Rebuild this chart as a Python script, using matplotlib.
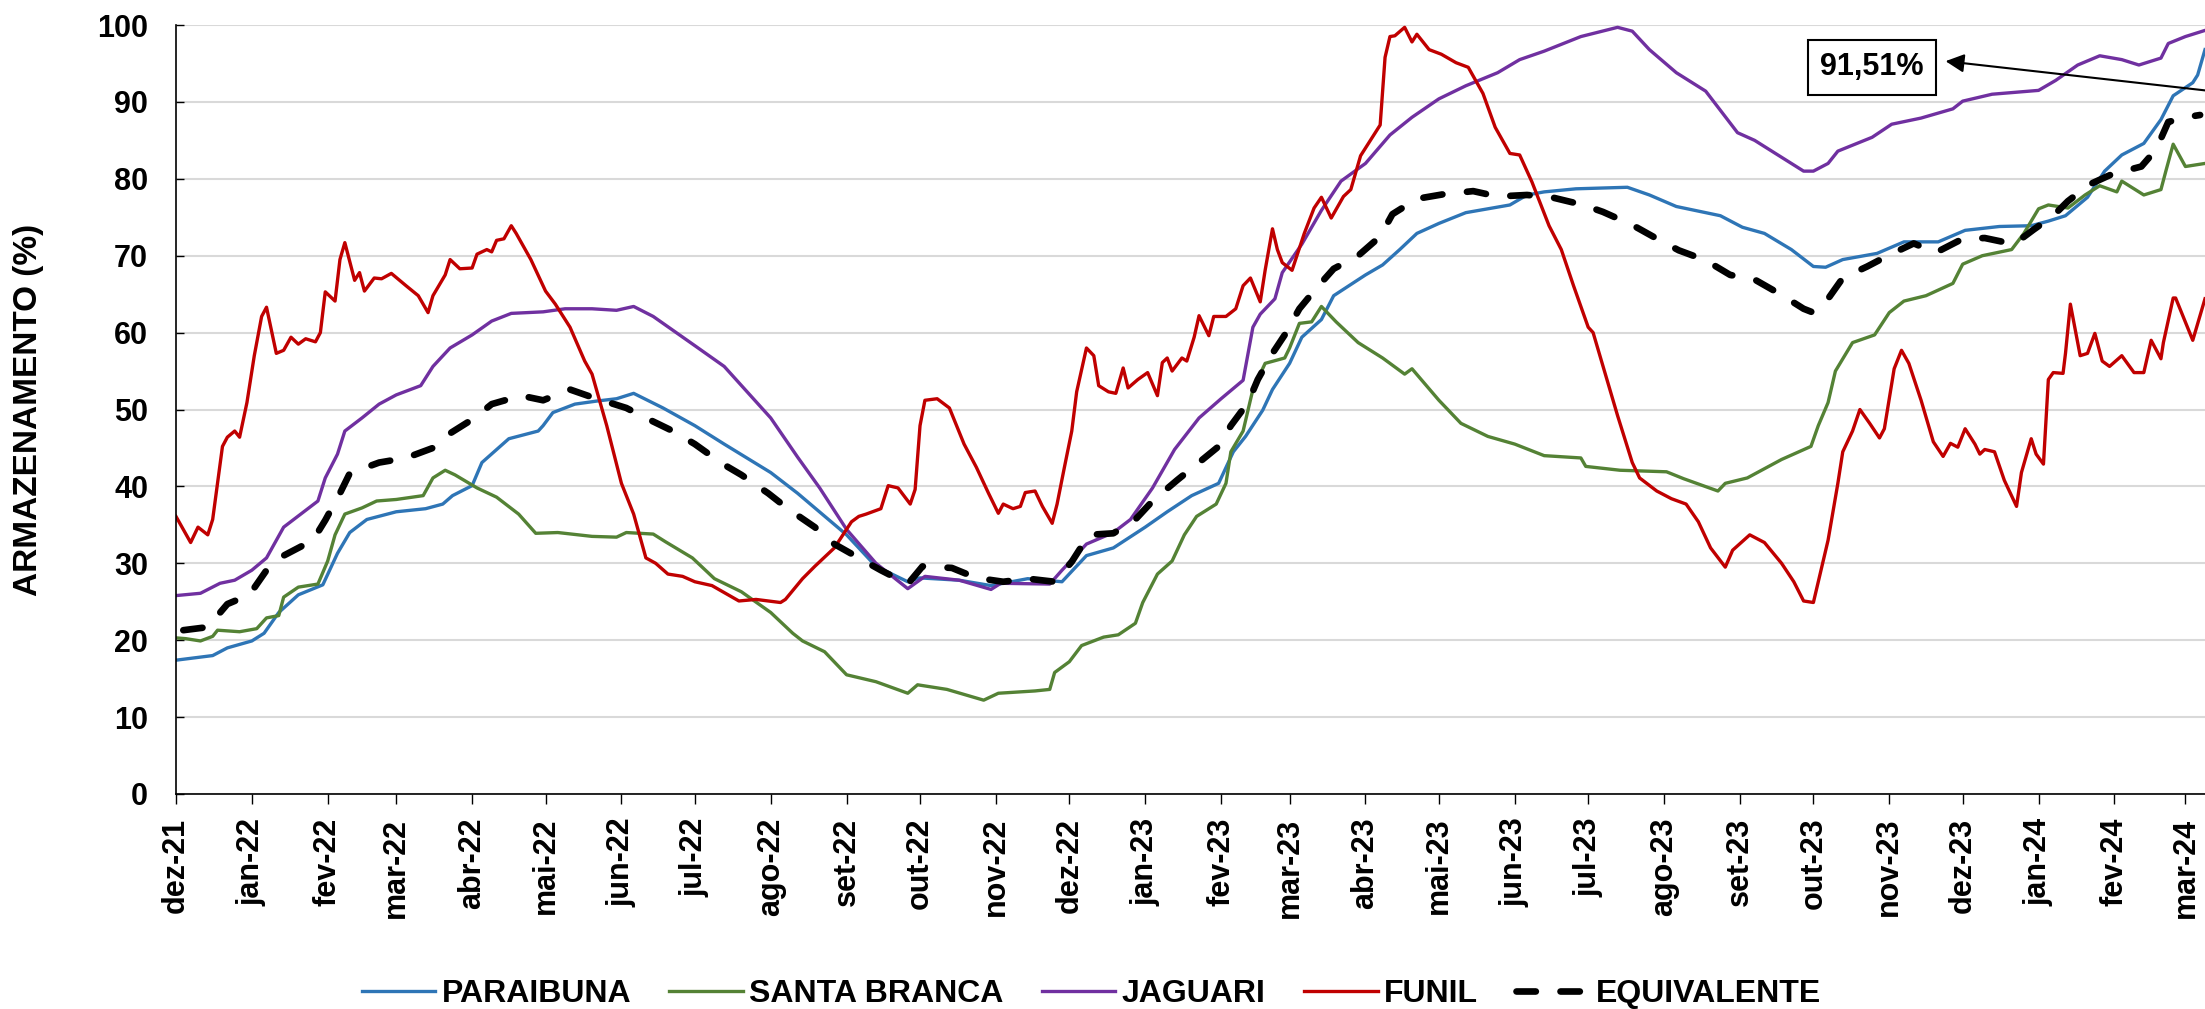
import pandas as pd
import matplotlib
matplotlib.use("Agg")
import matplotlib.pyplot as plt

# Month ticks
tick_labels = ["dez-21", "jan-22", "fev-22", "mar-22", "abr-22", "mai-22", "jun-22",
               "jul-22", "ago-22", "set-22", "out-22", "nov-22", "dez-22", "jan-23",
               "fev-23", "mar-23", "abr-23", "mai-23", "jun-23", "jul-23", "ago-23",
               "set-23", "out-23", "nov-23", "dez-23", "jan-24", "fev-24", "mar-24"]

# PARAIBUNA
paraibuna_dates = ["2021-12-01", "2021-12-16", "2021-12-22", "2022-01-01", "2022-01-06", "2022-01-12",
                   "2022-01-20", "2022-01-30", "2022-02-05", "2022-02-10", "2022-02-17", "2022-03-01",
                   "2022-03-13", "2022-03-20", "2022-03-24", "2022-04-01", "2022-04-05", "2022-04-16",
                   "2022-04-28", "2022-04-30", "2022-05-04", "2022-05-13", "2022-05-22", "2022-05-30",
                   "2022-06-06", "2022-06-18", "2022-07-01", "2022-07-13", "2022-08-01", "2022-08-12",
                   "2022-09-01", "2022-09-13", "2022-09-26", "2022-10-01", "2022-10-17", "2022-10-30",
                   "2022-11-14", "2022-11-28", "2022-12-08", "2022-12-19", "2023-01-01", "2023-01-10",
                   "2023-01-20", "2023-01-31", "2023-02-06", "2023-02-11", "2023-02-18", "2023-02-22",
                   "2023-03-01", "2023-03-06", "2023-03-14", "2023-03-19", "2023-04-01", "2023-04-08",
                   "2023-04-15", "2023-04-22", "2023-05-01", "2023-05-12", "2023-05-30", "2023-06-06",
                   "2023-06-13", "2023-06-26", "2023-07-17", "2023-07-26", "2023-08-06", "2023-08-24",
                   "2023-09-02", "2023-09-11", "2023-09-22", "2023-10-01", "2023-10-06", "2023-10-13",
                   "2023-10-27", "2023-11-07", "2023-11-21", "2023-12-02", "2023-12-16", "2023-12-29",
                   "2024-01-05", "2024-01-12", "2024-01-21", "2024-01-28", "2024-02-04", "2024-02-13",
                   "2024-02-20", "2024-02-25", "2024-03-04", "2024-03-06", "2024-03-09"]
paraibuna = [17.4, 18.0, 19.0, 19.9, 20.9, 23.6,
             25.9, 27.2, 31.3, 34.0, 35.7, 36.7,
             37.1, 37.7, 38.8, 40.1, 43.1, 46.2,
             47.2, 47.9, 49.6, 50.7, 51.1, 51.4,
             52.1, 50.2, 47.9, 45.5, 41.8, 39.1,
             33.7, 29.6, 27.6, 28.1, 27.8, 27.1,
             28.0, 27.6, 31.0, 32.0, 34.7, 36.7,
             38.8, 40.4, 44.5, 46.5, 49.9, 52.6,
             56.0, 59.4, 61.7, 64.8, 67.5, 68.8,
             70.8, 72.9, 74.2, 75.6, 76.6, 77.9,
             78.3, 78.7, 78.9, 77.9, 76.4, 75.2,
             73.7, 72.9, 70.8, 68.6, 68.5, 69.5,
             70.3, 71.8, 71.8, 73.3, 73.8, 73.9,
             74.5, 75.2, 77.6, 81.0, 83.1, 84.6,
             87.7, 90.8, 92.5, 93.5, 96.8]

# SANTA BRANCA
santa_branca_dates = ["2021-12-01", "2021-12-05", "2021-12-11", "2021-12-16", "2021-12-18", "2021-12-27",
                      "2022-01-03", "2022-01-07", "2022-01-12", "2022-01-14", "2022-01-20", "2022-01-28",
                      "2022-02-01", "2022-02-04", "2022-02-08", "2022-02-15", "2022-02-21", "2022-03-01",
                      "2022-03-12", "2022-03-16", "2022-03-21", "2022-03-25", "2022-04-03", "2022-04-11",
                      "2022-04-20", "2022-04-27", "2022-05-06", "2022-05-20", "2022-05-30", "2022-06-03",
                      "2022-06-14", "2022-06-19", "2022-06-30", "2022-07-09", "2022-07-20", "2022-08-01",
                      "2022-08-10", "2022-08-14", "2022-08-23", "2022-09-01", "2022-09-13", "2022-09-26",
                      "2022-09-30", "2022-10-12", "2022-10-27", "2022-11-02", "2022-11-17", "2022-11-23",
                      "2022-11-25", "2022-12-01", "2022-12-06", "2022-12-15", "2022-12-21", "2022-12-28",
                      "2022-12-31", "2023-01-06", "2023-01-12", "2023-01-17", "2023-01-22", "2023-01-30",
                      "2023-02-03", "2023-02-05", "2023-02-10", "2023-02-14", "2023-02-19", "2023-02-27",
                      "2023-03-01", "2023-03-05", "2023-03-10", "2023-03-14", "2023-03-20", "2023-03-29",
                      "2023-04-08", "2023-04-17", "2023-04-20", "2023-05-01", "2023-05-10", "2023-05-21",
                      "2023-06-01", "2023-06-13", "2023-06-28", "2023-06-30", "2023-07-14", "2023-08-02",
                      "2023-08-09", "2023-08-23", "2023-08-26", "2023-09-04", "2023-09-18", "2023-09-30",
                      "2023-10-03", "2023-10-07", "2023-10-10", "2023-10-17", "2023-10-26", "2023-11-01",
                      "2023-11-07", "2023-11-16", "2023-11-27", "2023-12-01", "2023-12-09", "2023-12-21",
                      "2023-12-26", "2024-01-01", "2024-01-05", "2024-01-13", "2024-01-20", "2024-01-26",
                      "2024-02-02", "2024-02-04", "2024-02-13", "2024-02-20", "2024-02-22", "2024-02-25",
                      "2024-03-01", "2024-03-09"]
santa_branca = [20.3, 20.2, 19.9, 20.5, 21.3, 21.1,
                21.5, 22.9, 23.2, 25.6, 26.9, 27.3,
                30.3, 33.7, 36.4, 37.2, 38.1, 38.3,
                38.8, 41.1, 42.1, 41.5, 39.8, 38.6,
                36.4, 33.9, 34.0, 33.5, 33.4, 34.0,
                33.8, 32.8, 30.7, 28.0, 26.3, 23.6,
                20.9, 19.9, 18.5, 15.5, 14.6, 13.1,
                14.2, 13.6, 12.2, 13.1, 13.4, 13.6,
                15.8, 17.2, 19.3, 20.4, 20.7, 22.2,
                24.9, 28.6, 30.3, 33.7, 36.1, 37.7,
                40.4, 44.5, 47.2, 52.6, 56.0, 56.7,
                58.0, 61.2, 61.4, 63.4, 61.4, 58.7,
                56.7, 54.6, 55.3, 51.2, 48.2, 46.5,
                45.5, 44.0, 43.7, 42.6, 42.1, 41.9,
                41.0, 39.4, 40.4, 41.1, 43.5, 45.2,
                47.9, 50.9, 55.0, 58.7, 59.7, 62.6,
                64.1, 64.8, 66.4, 68.9, 70.0, 70.8,
                72.9, 76.1, 76.6, 76.2, 77.9, 79.1,
                78.3, 79.7, 77.9, 78.6, 81.0, 84.5,
                81.6, 82.0]

# JAGUARI
jaguari_dates = ["2021-12-01", "2021-12-11", "2021-12-19", "2021-12-25", "2022-01-01", "2022-01-07",
                 "2022-01-14", "2022-01-21", "2022-01-28", "2022-01-31", "2022-02-05", "2022-02-08",
                 "2022-02-15", "2022-02-22", "2022-03-01", "2022-03-11", "2022-03-16", "2022-03-23",
                 "2022-04-01", "2022-04-09", "2022-04-17", "2022-04-30", "2022-05-09", "2022-05-20",
                 "2022-05-30", "2022-06-06", "2022-06-14", "2022-07-01", "2022-07-13", "2022-08-01",
                 "2022-08-12", "2022-08-21", "2022-09-01", "2022-09-13", "2022-09-26", "2022-10-03",
                 "2022-10-17", "2022-10-30", "2022-11-03", "2022-11-23", "2022-11-28", "2022-12-08",
                 "2022-12-19", "2022-12-26", "2023-01-04", "2023-01-13", "2023-01-23", "2023-02-01",
                 "2023-02-10", "2023-02-14", "2023-02-17", "2023-02-23", "2023-02-26", "2023-03-06",
                 "2023-03-14", "2023-03-22", "2023-04-01", "2023-04-11", "2023-04-20", "2023-05-01",
                 "2023-05-12", "2023-05-25", "2023-06-03", "2023-06-13", "2023-06-28", "2023-07-08",
                 "2023-07-13", "2023-07-19", "2023-07-26", "2023-08-06", "2023-08-18", "2023-08-31",
                 "2023-09-07", "2023-09-18", "2023-09-27", "2023-10-01", "2023-10-07", "2023-10-11",
                 "2023-10-25", "2023-11-02", "2023-11-14", "2023-11-27", "2023-12-01", "2023-12-13",
                 "2024-01-01", "2024-01-08", "2024-01-17", "2024-01-26", "2024-02-04", "2024-02-11",
                 "2024-02-14", "2024-02-20", "2024-02-23", "2024-03-01", "2024-03-09"]
jaguari = [25.8, 26.1, 27.4, 27.8, 29.1, 30.7,
           34.7, 36.4, 38.1, 41.1, 44.2, 47.2,
           48.9, 50.7, 51.9, 53.1, 55.6, 58.0,
           59.7, 61.5, 62.5, 62.7, 63.1, 63.1,
           62.9, 63.4, 62.1, 58.3, 55.6, 48.9,
           43.8, 39.8, 34.4, 30.0, 26.7, 28.3,
           27.8, 26.6, 27.4, 27.3, 29.1, 32.5,
           34.0, 35.7, 39.8, 44.8, 48.9, 51.4,
           53.8, 60.7, 62.4, 64.4, 67.8, 71.5,
           75.9, 79.7, 82.0, 85.7, 88.0, 90.4,
           92.1, 93.8, 95.5, 96.6, 98.5, 99.3,
           99.7, 99.2, 96.8, 93.8, 91.4, 86.0,
           85.0, 82.8, 81.0, 81.0, 82.0, 83.6,
           85.4, 87.1, 87.9, 89.1, 90.1, 91.0,
           91.5, 92.8, 94.8, 96.0, 95.5, 94.8,
           95.1, 95.7, 97.6, 98.5, 99.3]

# FUNIL
funil_dates = ["2021-12-01", "2021-12-04", "2021-12-07", "2021-12-10", "2021-12-14", "2021-12-16",
               "2021-12-18", "2021-12-20", "2021-12-22", "2021-12-25", "2021-12-27", "2021-12-30",
               "2022-01-02", "2022-01-05", "2022-01-07", "2022-01-11", "2022-01-14", "2022-01-17",
               "2022-01-20", "2022-01-23", "2022-01-27", "2022-01-29", "2022-01-31", "2022-02-04",
               "2022-02-06", "2022-02-08", "2022-02-12", "2022-02-14", "2022-02-16", "2022-02-20",
               "2022-02-23", "2022-02-27", "2022-03-05", "2022-03-10", "2022-03-14", "2022-03-16",
               "2022-03-21", "2022-03-23", "2022-03-27", "2022-04-01", "2022-04-03", "2022-04-07",
               "2022-04-09", "2022-04-11", "2022-04-14", "2022-04-17", "2022-04-19", "2022-04-25",
               "2022-05-01", "2022-05-05", "2022-05-11", "2022-05-17", "2022-05-20", "2022-05-26",
               "2022-06-01", "2022-06-06", "2022-06-11", "2022-06-15", "2022-06-20", "2022-06-26",
               "2022-07-01", "2022-07-08", "2022-07-19", "2022-07-26", "2022-08-05", "2022-08-07",
               "2022-08-14", "2022-08-19", "2022-08-27", "2022-09-03", "2022-09-06", "2022-09-09",
               "2022-09-15", "2022-09-18", "2022-09-22", "2022-09-27", "2022-09-29", "2022-10-01",
               "2022-10-03", "2022-10-08", "2022-10-13", "2022-10-19", "2022-10-24", "2022-10-29",
               "2022-11-02", "2022-11-04", "2022-11-08", "2022-11-11", "2022-11-13", "2022-11-17",
               "2022-11-20", "2022-11-24", "2022-11-26", "2022-11-29", "2022-12-02", "2022-12-04",
               "2022-12-08", "2022-12-11", "2022-12-13", "2022-12-17", "2022-12-20", "2022-12-23",
               "2022-12-25", "2022-12-29", "2023-01-02", "2023-01-06", "2023-01-08", "2023-01-10",
               "2023-01-12", "2023-01-16", "2023-01-18", "2023-01-21", "2023-01-23", "2023-01-27",
               "2023-01-29", "2023-02-03", "2023-02-07", "2023-02-10", "2023-02-13", "2023-02-17",
               "2023-02-19", "2023-02-22", "2023-02-24", "2023-02-26", "2023-03-02", "2023-03-07",
               "2023-03-11", "2023-03-14", "2023-03-18", "2023-03-23", "2023-03-26", "2023-03-30",
               "2023-04-03", "2023-04-07", "2023-04-09", "2023-04-11", "2023-04-13", "2023-04-17",
               "2023-04-20", "2023-04-22", "2023-04-27", "2023-05-02", "2023-05-08", "2023-05-13",
               "2023-05-19", "2023-05-24", "2023-05-30", "2023-06-03", "2023-06-08", "2023-06-15",
               "2023-06-20", "2023-06-25", "2023-07-01", "2023-07-03", "2023-07-08", "2023-07-13",
               "2023-07-19", "2023-07-22", "2023-07-29", "2023-08-04", "2023-08-10", "2023-08-15",
               "2023-08-20", "2023-08-26", "2023-08-29", "2023-09-05", "2023-09-11", "2023-09-18",
               "2023-09-23", "2023-09-27", "2023-10-01", "2023-10-03", "2023-10-07", "2023-10-11",
               "2023-10-13", "2023-10-17", "2023-10-20", "2023-10-24", "2023-10-28", "2023-10-30",
               "2023-11-03", "2023-11-06", "2023-11-09", "2023-11-14", "2023-11-19", "2023-11-23",
               "2023-11-26", "2023-11-29", "2023-12-02", "2023-12-06", "2023-12-08", "2023-12-10",
               "2023-12-14", "2023-12-18", "2023-12-23", "2023-12-25", "2023-12-29", "2023-12-31",
               "2024-01-03", "2024-01-05", "2024-01-07", "2024-01-11", "2024-01-12", "2024-01-14",
               "2024-01-18", "2024-01-21", "2024-01-24", "2024-01-27", "2024-01-30", "2024-02-04",
               "2024-02-09", "2024-02-13", "2024-02-16", "2024-02-20", "2024-02-21", "2024-02-25",
               "2024-02-26", "2024-03-04", "2024-03-09"]
funil = [36.1, 34.4, 32.7, 34.7, 33.7, 35.7,
         40.4, 45.2, 46.4, 47.2, 46.4, 50.9,
         57.0, 62.1, 63.3, 57.3, 57.7, 59.4,
         58.5, 59.2, 58.8, 60.0, 65.3, 64.1,
         69.5, 71.7, 66.8, 67.8, 65.4, 67.1,
         67.0, 67.7, 66.1, 64.8, 62.6, 64.8,
         67.5, 69.5, 68.3, 68.4, 70.2, 70.8,
         70.5, 72.0, 72.2, 73.9, 72.9, 69.5,
         65.4, 63.7, 60.7, 56.3, 54.6, 47.9,
         40.4, 36.4, 30.7, 30.0, 28.6, 28.3,
         27.6, 27.1, 25.1, 25.3, 24.9, 25.3,
         28.0, 29.6, 32.0, 35.4, 36.1, 36.4,
         37.1, 40.1, 39.8, 37.7, 39.6, 47.9,
         51.2, 51.4, 50.2, 45.5, 42.5, 39.1,
         36.5, 37.7, 37.1, 37.4, 39.2, 39.4,
         37.4, 35.2, 37.7, 42.5, 47.2, 52.3,
         58.0, 57.0, 53.1, 52.3, 52.1, 55.4,
         52.8, 53.9, 54.8, 51.8, 56.1, 56.7,
         55.0, 56.7, 56.3, 59.4, 62.2, 59.6,
         62.1, 62.1, 63.1, 66.1, 67.1, 64.0,
         68.1, 73.5, 70.8, 69.1, 68.1, 72.9,
         76.2, 77.6, 74.9, 77.7, 78.6, 83.0,
         85.0, 87.0, 95.8, 98.5, 98.6, 99.7,
         97.8, 98.8, 96.8, 96.2, 95.1, 94.5,
         91.1, 86.7, 83.3, 83.1, 79.6, 73.9,
         70.8, 66.1, 60.7, 60.0, 54.6, 49.2,
         43.1, 41.1, 39.4, 38.4, 37.7, 35.4,
         32.0, 29.5, 31.7, 33.7, 32.7, 30.0,
         27.6, 25.1, 24.9, 27.6, 33.0, 40.4,
         44.5, 47.2, 50.0, 48.2, 46.3, 47.5,
         55.3, 57.7, 56.0, 51.2, 45.8, 43.9,
         45.6, 45.1, 47.5, 45.5, 44.2, 44.8,
         44.5, 40.8, 37.4, 41.8, 46.2, 44.2,
         42.9, 53.9, 54.8, 54.7, 57.3, 63.7,
         57.0, 57.3, 59.9, 56.3, 55.6, 57.0,
         54.8, 54.8, 59.0, 56.6, 58.7, 64.5,
         64.5, 59.0, 64.4]

# EQUIVALENTE
equivalente_dates = ["2021-12-04", "2021-12-14", "2021-12-22", "2021-12-31", "2022-01-07", "2022-01-14",
                     "2022-01-26", "2022-01-31", "2022-02-06", "2022-02-10", "2022-02-22", "2022-03-05",
                     "2022-03-16", "2022-03-23", "2022-04-02", "2022-04-09", "2022-04-21", "2022-04-30",
                     "2022-05-11", "2022-05-20", "2022-06-03", "2022-06-11", "2022-06-22", "2022-07-01",
                     "2022-07-12", "2022-07-20", "2022-07-31", "2022-08-08", "2022-08-19", "2022-08-27",
                     "2022-09-06", "2022-09-15", "2022-09-26", "2022-10-02", "2022-10-14", "2022-10-24",
                     "2022-11-04", "2022-11-14", "2022-11-25", "2022-12-02", "2022-12-09", "2022-12-19",
                     "2022-12-28", "2023-01-04", "2023-01-14", "2023-01-21", "2023-01-31", "2023-02-05",
                     "2023-02-12", "2023-02-16", "2023-02-22", "2023-02-27", "2023-03-05", "2023-03-12",
                     "2023-03-19", "2023-03-29", "2023-04-07", "2023-04-12", "2023-04-22", "2023-05-03",
                     "2023-05-15", "2023-05-25", "2023-06-06", "2023-06-16", "2023-06-29", "2023-07-07",
                     "2023-07-19", "2023-07-28", "2023-08-07", "2023-08-18", "2023-08-28", "2023-09-07",
                     "2023-09-18", "2023-09-27", "2023-10-01", "2023-10-07", "2023-10-13", "2023-10-23",
                     "2023-11-01", "2023-11-11", "2023-11-20", "2023-12-01", "2023-12-10", "2023-12-22",
                     "2023-12-30", "2024-01-07", "2024-01-13", "2024-01-22", "2024-01-31", "2024-02-12",
                     "2024-02-18", "2024-02-23", "2024-03-03", "2024-03-07"]
equivalente = [21.3, 21.7, 24.7, 25.9, 29.1, 31.0,
               33.0, 35.6, 39.1, 41.7, 43.1, 43.7,
               45.0, 46.9, 48.9, 50.7, 51.8, 51.2,
               52.6, 51.6, 50.2, 48.9, 47.2, 45.5,
               43.0, 41.5, 39.1, 37.1, 34.7, 32.5,
               30.7, 29.1, 27.3, 29.6, 29.4, 28.1,
               27.6, 28.0, 27.6, 30.2, 33.7, 33.9,
               35.7, 38.1, 40.8, 42.6, 45.2, 47.9,
               50.9, 53.9, 57.3, 59.7, 63.1, 65.8,
               68.3, 70.0, 72.5, 75.4, 77.4, 78.0,
               78.4, 77.7, 77.9, 77.6, 76.6, 75.7,
               74.0, 72.4, 70.7, 69.4, 67.5, 66.9,
               64.9, 63.1, 62.6, 64.4, 67.1, 68.6,
               70.1, 71.6, 70.4, 72.2, 72.3, 71.5,
               73.4, 75.2, 77.1, 79.3, 80.6, 81.6,
               83.8, 87.4, 88.1, 88.3]

plt.rcParams['font.family'] = ['Liberation Sans', 'DejaVu Sans']
plt.rcParams['font.weight'] = 'bold'

fig = plt.figure(figsize=(22.05, 10.09), dpi=100)
ax = fig.add_axes([0.0798, 0.2131, 0.9202, 0.7621])

# Series
series = [("PARAIBUNA", paraibuna_dates, paraibuna, "#2E75B6"),
          ("SANTA BRANCA", santa_branca_dates, santa_branca, "#548235"),
          ("JAGUARI", jaguari_dates, jaguari, "#7030A0"),
          ("FUNIL", funil_dates, funil, "#C00000")]
for name, dates, vals, color in series:
    ax.plot(pd.to_datetime(dates), vals, color=color, lw=2.4, label=name,
            solid_joinstyle='round')
ax.plot(pd.to_datetime(equivalente_dates), equivalente, color="black", lw=4.8,
        ls=(0, (2.9, 3.7)), dash_capstyle='round', label="EQUIVALENTE")

# Axes
ax.set_ylim(0, 100)
ax.set_yticks(range(0, 101, 10))
ax.set_xlim(pd.Timestamp("2021-12-01"), pd.Timestamp("2024-03-09"))
month_ticks = pd.date_range("2021-12-01", "2024-03-01", freq="MS")
ax.set_xticks(month_ticks)
ax.set_xticklabels(tick_labels, rotation=90)
ax.tick_params(axis='y', direction='in', length=6, width=1, labelsize=22, pad=20)
ax.tick_params(axis='x', direction='out', length=7, width=1, labelsize=22, pad=10)
ax.yaxis.grid(True, color="#D9D9D9", lw=1.5)
ax.set_axisbelow(True)
for s in ["top", "right"]:
    ax.spines[s].set_visible(False)
for s in ["left", "bottom"]:
    ax.spines[s].set_linewidth(1.2)

fig.text(0.0127, 0.594, "ARMAZENAMENTO (%)", rotation=90, ha="center", va="center",
         fontsize=24, fontweight="bold")

# Annotation
ax.annotate("", xy=(pd.Timestamp("2023-11-24"), 95.3), xytext=(pd.Timestamp("2024-03-09"), 91.5),
            arrowprops=dict(arrowstyle="-|>", color="black", lw=1.5, mutation_scale=28,
                            shrinkA=0, shrinkB=0),
            annotation_clip=False)
ax.text(pd.Timestamp("2023-10-25"), 94.5, "91,51%", fontsize=22, fontweight="bold",
        ha="center", va="center",
        bbox=dict(boxstyle="square,pad=0.4", fc="white", ec="black", lw=1.5))

fig.legend(loc="center", bbox_to_anchor=(0.495, 0.0149), ncol=5, frameon=False,
           fontsize=23, handlelength=2.3, handletextpad=0.2, columnspacing=1.2)

fig.savefig("out.png", dpi=100)
